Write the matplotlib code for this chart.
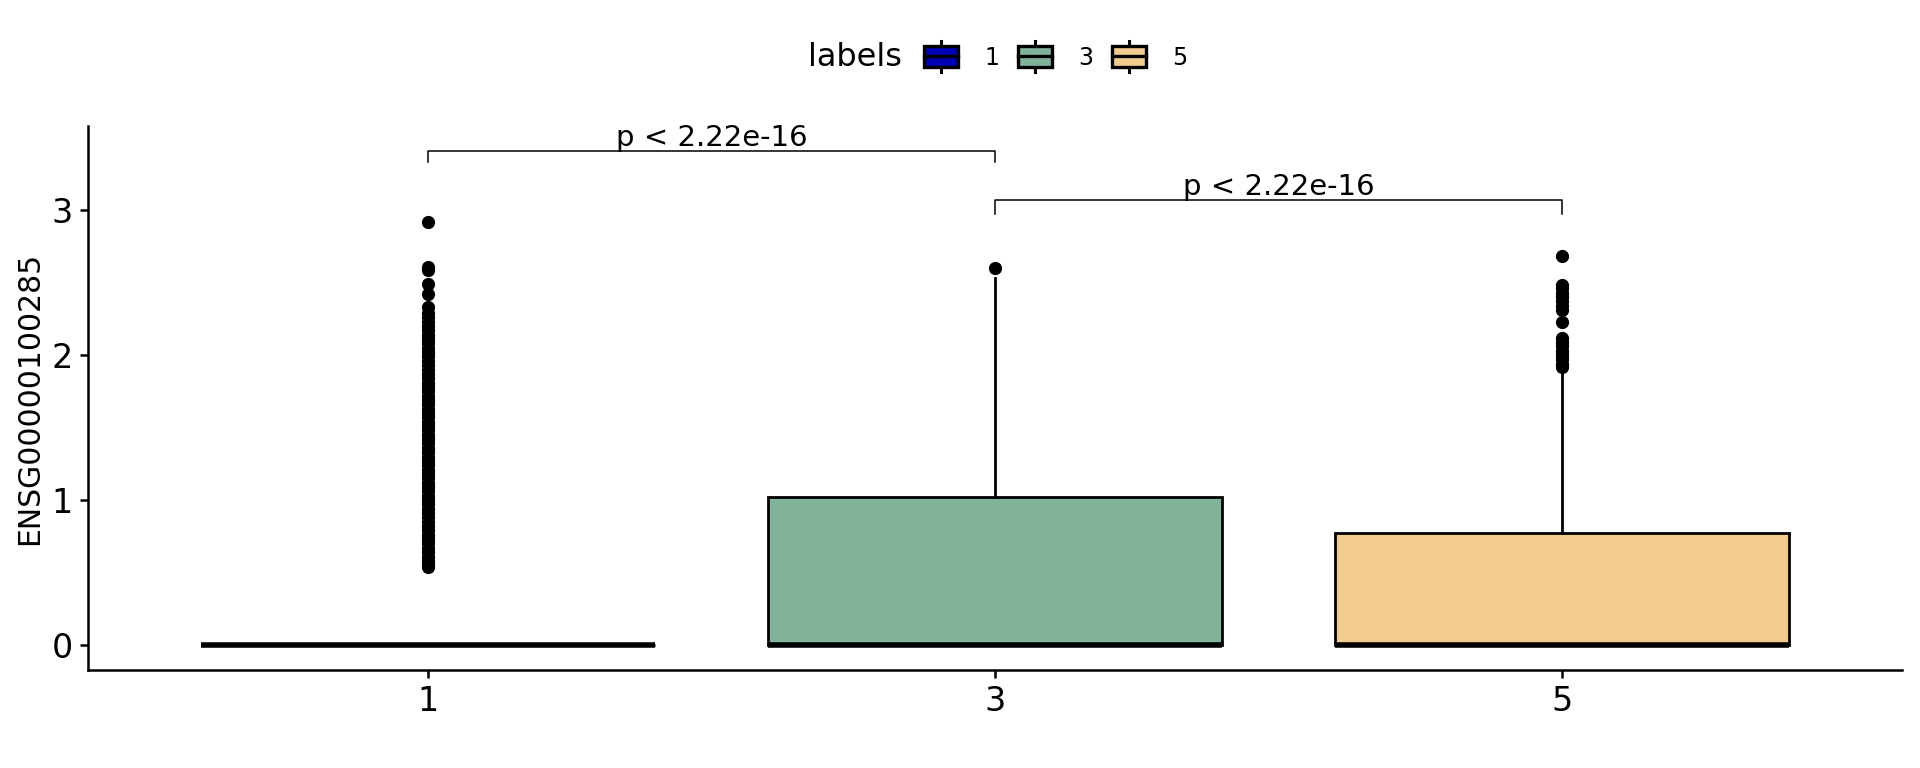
import numpy as np
import matplotlib.pyplot as plt
import matplotlib.patches as mpatches
import matplotlib.lines as mlines
from matplotlib.legend_handler import HandlerBase

# 데이터
groups = ["1", "3", "5"]
colors = ["#0000B4", "#81B29A", "#F2CC8F"]
q1 = [0.0, 0.0, 0.0]
med = [0.0, 0.0, 0.0]
q3 = [0.0, 1.02, 0.77]
whislo = [0.0, 0.0, 0.0]
whishi = [0.0, 2.53, 1.90]
fliers_1 = [2.92, 2.61, 2.59, 2.49, 2.42, 2.33, 2.29, 2.26, 2.23, 2.20, 2.17,
            2.14, 2.11, 2.08, 2.05, 2.02, 1.99, 1.96, 1.93, 1.90, 1.87, 1.84,
            1.81, 1.78, 1.75, 1.72, 1.69, 1.66, 1.63, 1.60, 1.57, 1.54, 1.51,
            1.48, 1.45, 1.42, 1.39, 1.36, 1.33, 1.30, 1.27, 1.24, 1.21, 1.18,
            1.15, 1.12, 1.09, 1.06, 1.03, 1.00, 0.97, 0.94, 0.91, 0.88, 0.85,
            0.82, 0.79, 0.76, 0.73, 0.70, 0.67, 0.64, 0.61, 0.58, 0.56, 0.54]
fliers_3 = [2.60]
fliers_5 = [2.68, 2.48, 2.46, 2.43, 2.40, 2.37, 2.34, 2.31, 2.23,
            2.12, 2.09, 2.06, 2.03, 2.00, 1.97, 1.94, 1.92]
fliers = [fliers_1, fliers_3, fliers_5]

# 비교 브래킷
comparisons = [(0, 1), (1, 2)]
bracket_y = [3.41, 3.07]
bracket_tip = [3.33, 2.97]
p_labels = ["p < 2.22e-16", "p < 2.22e-16"]

stats = []
for i in range(len(groups)):
    stats.append(dict(label=groups[i], q1=q1[i], med=med[i], q3=q3[i],
                      whislo=whislo[i], whishi=whishi[i], fliers=fliers[i]))


class BoxHandler(HandlerBase):
    # 범례용 박스 모양
    def create_artists(self, legend, orig_handle, xdescent, ydescent,
                       width, height, fontsize, trans):
        x0, y0 = -xdescent, -ydescent
        rect = mpatches.Rectangle((x0, y0), width, height,
                                  facecolor=orig_handle.get_facecolor(),
                                  edgecolor="black", linewidth=2.4,
                                  transform=trans)
        mid = mlines.Line2D([x0, x0 + width], [y0 + height / 2] * 2,
                            color="black", linewidth=2.4, transform=trans)
        ext = 0.25 * height
        top = mlines.Line2D([x0 + width / 2] * 2, [y0 + height, y0 + height + ext],
                            color="black", linewidth=2.2, transform=trans)
        bot = mlines.Line2D([x0 + width / 2] * 2, [y0 - ext, y0],
                            color="black", linewidth=2.2, transform=trans)
        return [rect, mid, top, bot]


plt.rcParams['font.family'] = ['DejaVu Sans']
fig = plt.figure(figsize=(19.2, 7.68), dpi=100)
ax = fig.add_axes([0.0458, 0.1276, 0.9448, 0.7083])

positions = np.arange(len(groups))
bp = ax.bxp(stats, positions=positions, widths=0.8, patch_artist=True,
            showcaps=False,
            boxprops=dict(linewidth=2.0, edgecolor="black"),
            medianprops=dict(color="black", linewidth=4.0, solid_capstyle="butt"),
            whiskerprops=dict(color="black", linewidth=2.0),
            flierprops=dict(marker="o", markerfacecolor="black",
                            markeredgecolor="black", markersize=8.5))
for patch, c in zip(bp["boxes"], colors):
    patch.set_facecolor(c)

# 브래킷 + p값
for (a, b), yb, yt, lab in zip(comparisons, bracket_y, bracket_tip, p_labels):
    ax.plot([a, a, b, b], [yt, yb, yb, yt], color="black", linewidth=1.1)
    ax.text((a + b) / 2, yb + 0.035, lab, ha="center", va="baseline", fontsize=21)

ax.set_xlim(-0.6, 2.6)
ax.set_ylim(-0.173, 3.58)
ax.set_xticks(positions)
ax.set_xticklabels(groups)
ax.set_yticks([0, 1, 2, 3])
ax.set_ylabel("ENSG00000100285", fontsize=21.5, labelpad=5)
ax.tick_params(labelsize=24, width=1.8, length=6, pad=5)
for s in ["top", "right"]:
    ax.spines[s].set_visible(False)
for s in ["left", "bottom"]:
    ax.spines[s].set_linewidth(1.8)

# 범례
fig.text(808 / 1920, 0.925, "labels", fontsize=23, va="center", ha="left")
handles = [mpatches.Patch(facecolor=c, edgecolor="black") for c in colors]
fig.legend(handles, groups, handler_map={mpatches.Patch: BoxHandler()},
           loc="center left", bbox_to_anchor=(924 / 1920, 0.925), ncol=3,
           frameon=False, fontsize=17, handlelength=1.44, handleheight=0.95,
           handletextpad=1.14, columnspacing=0.76, borderpad=0, borderaxespad=0)

plt.savefig("out.png", dpi=100)
